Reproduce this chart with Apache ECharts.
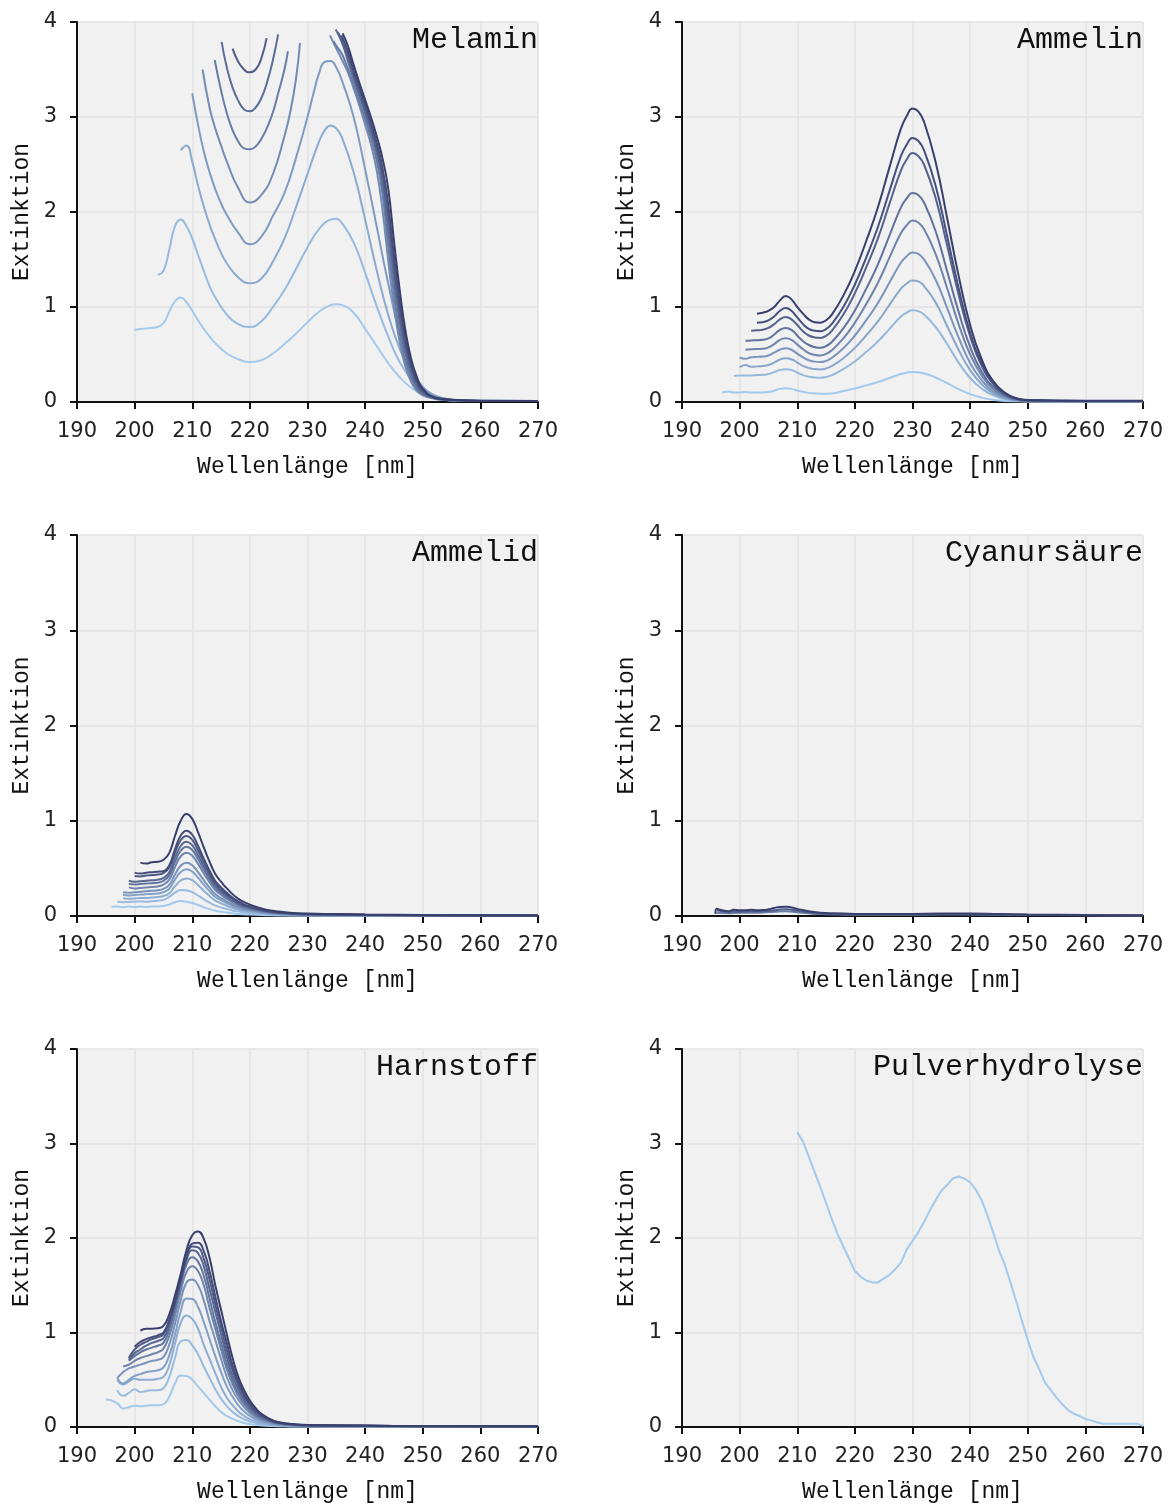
<!DOCTYPE html>
<html>
<head>
<meta charset="utf-8">
<script src="https://cdn.jsdelivr.net/npm/echarts@6.0.0/dist/echarts.min.js"></script>
<style>
  html, body { margin: 0; padding: 0; background: #fff; }
  #chart { width: 1173px; height: 1504px; }
</style>
</head>
<body>
<div id="chart"></div>
<script>
// panel titles, in reading order
const panelNames = ['Melamin', 'Ammelin', 'Ammelid', 'Cyanursäure', 'Harnstoff', 'Pulverhydrolyse'];
const xMin = 190, xMax = 270, xStep = 10;
const yMin = 0, yMax = 4, yStep = 1;

// spectra: [wavelength nm, extinction], light -> dark; null marks a gap (saturated range)
const melamin = [
  [[200,0.76],[202,0.775],[204,0.79],[205,0.83],[206,0.95],[207,1.06],[208,1.1],[209,1.05],[210,0.96],[211,0.86],[212,0.77],[213,0.69],[214,0.62],[216,0.51],[218,0.45],[220,0.42],[222,0.44],[224,0.51],[226,0.61],[228,0.72],[230,0.84],[232,0.95],[234,1.02],[235,1.03],[236,1.02],[238,0.94],[240,0.77],[242,0.59],[244,0.41],[246,0.26],[248,0.15],[250,0.08],[252,0.04],[254,0.02],[256,0.015],[260,0.01],[270,0.01]],
  [[204,1.34],[205,1.38],[206,1.6],[207,1.85],[208,1.92],[209,1.85],[210,1.72],[211,1.55],[212,1.38],[213,1.22],[214,1.1],[216,0.92],[218,0.82],[220,0.79],[222,0.85],[224,1.0],[226,1.18],[228,1.4],[230,1.63],[232,1.82],[234,1.92],[235,1.93],[236,1.88],[238,1.68],[240,1.36],[242,1.01],[244,0.69],[246,0.42],[248,0.24],[250,0.12],[252,0.057],[254,0.025],[256,0.015],[260,0.01],[270,0.01]],
  [[208,2.65],[209,2.7],[210,2.53],[211,2.28],[212,2.06],[213,1.87],[214,1.71],[215,1.57],[216,1.46],[218,1.31],[220,1.25],[222,1.3],[224,1.48],[226,1.72],[228,2.05],[230,2.4],[232,2.74],[233,2.86],[234,2.91],[235,2.88],[236,2.78],[238,2.42],[240,1.92],[242,1.39],[244,0.92],[246,0.56],[248,0.31],[250,0.15],[252,0.07],[254,0.03],[256,0.018],[260,0.012],[270,0.01]],
  [[210,3.25],[211,2.92],[212,2.64],[213,2.42],[214,2.24],[215,2.09],[216,1.97],[218,1.78],[220,1.66],[222,1.74],[224,1.96],[226,2.2],[228,2.57],[230,3.0],[231,3.24],[232,3.46],[233,3.58],[234,3.59],[235,3.52],[236,3.38],[238,3.0],[240,2.45],[242,1.85],[244,1.25],[246,0.72],[248,0.36],[250,0.16],[252,0.07],[254,0.035],[256,0.02],[260,0.012],[270,0.01]],
  [[211.8,3.5],[213,3.1],[214,2.88],[215,2.7],[216,2.53],[218,2.25],[220,2.1],[222,2.18],[224,2.4],[226,2.8],[227,3.05],[228,3.4],[228.7,3.78],[231,null],[233.9,3.86],[235,3.72],[236,3.6],[237,3.47],[238,3.3],[239,3.12],[240,2.92],[241,2.71],[242,2.44],[243,2.03],[244,1.49],[245,1.01],[246,0.63],[247,0.37],[248,0.21],[249,0.115],[250,0.07],[252,0.035],[254,0.02],[256,0.015],[260,0.01],[270,0.01]],
  [[213.9,3.6],[215,3.28],[216,3.04],[217,2.86],[218,2.74],[219,2.67],[220,2.66],[221,2.69],[222,2.77],[223,2.89],[224,3.05],[225,3.27],[226,3.5],[226.6,3.69],[230,null],[234.5,3.8],[235,3.75],[236,3.66],[237,3.51],[238,3.34],[239,3.16],[240,2.98],[241,2.78],[242,2.54],[243,2.2],[244,1.65],[245,1.14],[246,0.72],[247,0.43],[248,0.25],[249,0.135],[250,0.08],[252,0.04],[254,0.022],[256,0.015],[260,0.01],[270,0.01]],
  [[215.1,3.79],[216,3.52],[217,3.31],[218,3.17],[219,3.08],[220,3.06],[221,3.1],[222,3.2],[223,3.37],[224,3.6],[224.9,3.87],[230,null],[234.9,3.92],[236,3.78],[237,3.59],[238,3.4],[239,3.22],[240,3.04],[241,2.84],[242,2.62],[243,2.31],[244,1.81],[245,1.28],[246,0.84],[247,0.51],[248,0.3],[249,0.16],[250,0.09],[252,0.042],[254,0.024],[256,0.016],[260,0.01],[270,0.01]],
  [[217,3.72],[218,3.58],[219,3.5],[219.8,3.47],[221,3.5],[222,3.62],[222.9,3.83],[230,null],[235.3,3.89],[236,3.8],[237,3.64],[238,3.45],[239,3.26],[240,3.08],[241,2.89],[242,2.67],[243,2.39],[244,1.95],[245,1.41],[246,0.94],[247,0.585],[248,0.35],[249,0.19],[250,0.11],[252,0.045],[254,0.026],[256,0.017],[260,0.011],[270,0.01]],
  [[235.9,3.86],[237,3.69],[238,3.49],[239,3.31],[240,3.13],[241,2.94],[242,2.73],[243,2.47],[244,2.08],[245,1.54],[246,1.05],[247,0.66],[248,0.39],[249,0.22],[250,0.12],[252,0.048],[254,0.028],[256,0.018],[260,0.011],[270,0.01]],
  [[236.1,3.88],[237,3.75],[238,3.55],[239,3.36],[240,3.18],[241,3.0],[242,2.8],[243,2.57],[244,2.25],[245,1.7],[246,1.18],[247,0.75],[248,0.45],[249,0.26],[250,0.14],[252,0.05],[254,0.03],[256,0.02],[260,0.012],[270,0.01]]
];

const ammelin = [
  [[197,0.098],[198,0.11],[199,0.1],[200,0.1],[201,0.105],[202,0.1],[203,0.1],[204,0.1],[205,0.105],[206,0.12],[207,0.138],[208,0.144],[209,0.138],[210,0.122],[211,0.107],[212,0.096],[213,0.09],[214,0.087],[216,0.09],[218,0.116],[220,0.142],[222,0.175],[224,0.21],[226,0.252],[228,0.294],[230,0.315],[232,0.3],[234,0.258],[236,0.198],[238,0.135],[240,0.083],[242,0.046],[244,0.022],[246,0.01],[250,0.005],[270,0.005]],
  [[199,0.275],[200,0.28],[201,0.278],[202,0.28],[203,0.283],[204,0.286],[205,0.295],[206,0.315],[207,0.338],[208,0.345],[209,0.337],[210,0.31],[211,0.283],[212,0.265],[213,0.258],[214,0.255],[215,0.263],[216,0.282],[218,0.345],[220,0.427],[222,0.528],[224,0.638],[226,0.77],[228,0.9],[229,0.941],[230,0.966],[231,0.956],[232,0.92],[234,0.79],[236,0.61],[238,0.415],[240,0.253],[242,0.141],[244,0.069],[246,0.031],[248,0.013],[250,0.008],[260,0.006],[270,0.006]],
  [[200,0.365],[201,0.39],[202,0.37],[203,0.375],[204,0.38],[205,0.39],[206,0.415],[207,0.448],[208,0.46],[209,0.45],[210,0.415],[211,0.38],[212,0.358],[213,0.347],[214,0.343],[215,0.353],[216,0.379],[218,0.461],[220,0.57],[222,0.703],[224,0.848],[226,1.022],[228,1.193],[229,1.247],[230,1.28],[231,1.27],[232,1.22],[234,1.05],[236,0.8],[238,0.55],[240,0.335],[242,0.187],[244,0.09],[246,0.041],[248,0.017],[250,0.009],[260,0.007],[270,0.007]],
  [[200,0.47],[201,0.455],[202,0.47],[203,0.475],[204,0.478],[205,0.49],[206,0.52],[207,0.55],[208,0.565],[209,0.55],[210,0.51],[211,0.47],[212,0.44],[213,0.425],[214,0.42],[215,0.433],[216,0.464],[218,0.566],[220,0.7],[222,0.864],[224,1.043],[226,1.257],[228,1.468],[229,1.535],[230,1.575],[231,1.56],[232,1.5],[234,1.29],[236,0.99],[238,0.68],[240,0.41],[242,0.23],[244,0.11],[246,0.05],[248,0.02],[250,0.01],[260,0.008],[270,0.008]],
  [[201,0.55],[202,0.555],[203,0.558],[204,0.56],[205,0.575],[206,0.61],[207,0.655],[208,0.67],[209,0.655],[210,0.605],[211,0.555],[212,0.515],[213,0.497],[214,0.49],[215,0.506],[216,0.544],[218,0.669],[220,0.834],[222,1.035],[224,1.255],[226,1.52],[228,1.778],[229,1.86],[230,1.91],[231,1.89],[232,1.82],[234,1.56],[236,1.2],[238,0.82],[240,0.5],[242,0.28],[244,0.136],[246,0.061],[248,0.025],[250,0.012],[260,0.008],[270,0.008]],
  [[201,0.645],[202,0.648],[203,0.65],[204,0.655],[205,0.67],[206,0.71],[207,0.76],[208,0.78],[209,0.76],[210,0.7],[211,0.64],[212,0.6],[213,0.578],[214,0.57],[215,0.588],[216,0.632],[218,0.775],[220,0.964],[222,1.196],[224,1.449],[226,1.752],[228,2.048],[229,2.143],[230,2.2],[231,2.18],[232,2.1],[234,1.8],[236,1.38],[238,0.95],[240,0.58],[242,0.32],[244,0.16],[246,0.07],[248,0.03],[250,0.014],[260,0.009],[270,0.009]],
  [[202,0.75],[203,0.755],[204,0.76],[205,0.78],[206,0.82],[207,0.87],[208,0.895],[209,0.87],[210,0.81],[211,0.745],[212,0.7],[213,0.68],[214,0.675],[215,0.696],[216,0.749],[218,0.92],[220,1.146],[222,1.422],[224,1.723],[226,2.085],[228,2.439],[229,2.552],[230,2.62],[231,2.59],[232,2.5],[234,2.15],[236,1.65],[238,1.13],[240,0.69],[242,0.38],[244,0.19],[246,0.084],[248,0.034],[250,0.017],[260,0.01],[270,0.01]],
  [[203,0.835],[204,0.84],[205,0.86],[206,0.9],[207,0.96],[208,0.99],[209,0.96],[210,0.89],[211,0.82],[212,0.77],[213,0.75],[214,0.745],[215,0.767],[216,0.822],[218,1.0],[220,1.237],[222,1.526],[224,1.842],[226,2.22],[228,2.59],[229,2.709],[230,2.78],[231,2.75],[232,2.65],[234,2.28],[236,1.75],[238,1.2],[240,0.73],[242,0.41],[244,0.2],[246,0.09],[248,0.036],[250,0.018],[260,0.01],[270,0.01]],
  [[203,0.93],[204,0.94],[205,0.96],[206,1.0],[207,1.07],[208,1.116],[209,1.08],[210,1.0],[211,0.93],[212,0.87],[213,0.84],[214,0.835],[215,0.86],[216,0.92],[218,1.12],[220,1.38],[222,1.7],[224,2.05],[226,2.47],[228,2.88],[229,3.01],[230,3.09],[231,3.06],[232,2.95],[234,2.53],[236,1.94],[238,1.33],[240,0.81],[242,0.45],[244,0.22],[246,0.1],[248,0.04],[250,0.02],[260,0.012],[270,0.012]]
];

const ammelid = [
  [[196,0.098],[197,0.1],[198,0.092],[199,0.1],[200,0.095],[201,0.1],[202,0.095],[203,0.1],[204,0.1],[205,0.105],[206,0.12],[207,0.145],[208,0.157],[209,0.15],[210,0.137],[211,0.115],[212,0.092],[213,0.072],[214,0.056],[215,0.045],[216,0.036],[218,0.022],[220,0.015],[222,0.01],[224,0.007],[226,0.005],[230,0.004],[270,0.002]],
  [[197,0.15],[198,0.145],[199,0.148],[200,0.15],[201,0.152],[202,0.15],[203,0.155],[204,0.16],[205,0.17],[206,0.2],[207,0.245],[208,0.272],[209,0.268],[210,0.25],[211,0.215],[212,0.175],[213,0.14],[214,0.11],[215,0.09],[216,0.073],[218,0.046],[220,0.03],[222,0.02],[224,0.014],[226,0.01],[230,0.006],[240,0.004],[270,0.002]],
  [[198,0.186],[199,0.18],[200,0.185],[201,0.19],[202,0.19],[203,0.195],[204,0.2],[205,0.21],[206,0.238],[207,0.312],[208,0.373],[209,0.395],[210,0.376],[211,0.325],[212,0.265],[213,0.21],[214,0.162],[215,0.133],[216,0.107],[218,0.066],[220,0.044],[222,0.03],[224,0.02],[226,0.015],[228,0.011],[230,0.009],[240,0.006],[250,0.004],[270,0.002]],
  [[198,0.22],[199,0.215],[200,0.22],[201,0.225],[202,0.228],[203,0.232],[204,0.235],[205,0.25],[206,0.286],[207,0.382],[208,0.461],[209,0.49],[210,0.466],[211,0.403],[212,0.329],[213,0.261],[214,0.201],[215,0.165],[216,0.133],[218,0.082],[220,0.055],[222,0.037],[224,0.025],[226,0.018],[228,0.014],[230,0.011],[240,0.007],[250,0.004],[270,0.002]],
  [[198,0.25],[199,0.245],[200,0.25],[201,0.255],[202,0.26],[203,0.265],[204,0.27],[205,0.285],[206,0.326],[207,0.436],[208,0.527],[209,0.56],[210,0.533],[211,0.46],[212,0.376],[213,0.298],[214,0.23],[215,0.188],[216,0.152],[218,0.094],[220,0.063],[222,0.042],[224,0.029],[226,0.021],[228,0.016],[230,0.013],[235,0.011],[240,0.008],[250,0.005],[270,0.003]],
  [[199,0.3],[200,0.29],[201,0.295],[202,0.3],[203,0.305],[204,0.31],[205,0.33],[206,0.38],[207,0.514],[208,0.625],[209,0.665],[210,0.633],[211,0.547],[212,0.447],[213,0.354],[214,0.273],[215,0.223],[216,0.18],[218,0.112],[220,0.074],[222,0.05],[224,0.034],[226,0.025],[228,0.019],[230,0.015],[235,0.013],[240,0.009],[250,0.006],[270,0.003]],
  [[199,0.335],[200,0.33],[201,0.335],[202,0.34],[203,0.345],[204,0.35],[205,0.37],[206,0.424],[207,0.567],[208,0.685],[209,0.728],[210,0.693],[211,0.598],[212,0.489],[213,0.387],[214,0.299],[215,0.245],[216,0.197],[218,0.122],[220,0.082],[222,0.055],[224,0.037],[226,0.027],[228,0.02],[230,0.017],[235,0.014],[240,0.01],[250,0.007],[270,0.004]],
  [[199,0.37],[200,0.36],[201,0.365],[202,0.37],[203,0.375],[204,0.38],[205,0.4],[206,0.457],[207,0.61],[208,0.735],[209,0.78],[210,0.743],[211,0.641],[212,0.524],[213,0.415],[214,0.321],[215,0.262],[216,0.211],[218,0.131],[220,0.087],[222,0.059],[224,0.04],[226,0.029],[228,0.022],[230,0.018],[235,0.015],[240,0.011],[250,0.007],[270,0.004]],
  [[200,0.42],[201,0.415],[202,0.425],[203,0.43],[204,0.435],[205,0.45],[206,0.51],[207,0.665],[208,0.795],[209,0.84],[210,0.8],[211,0.69],[212,0.565],[213,0.447],[214,0.345],[215,0.282],[216,0.228],[218,0.141],[220,0.094],[222,0.063],[224,0.043],[226,0.031],[228,0.024],[230,0.019],[235,0.016],[240,0.012],[250,0.008],[270,0.004]],
  [[200,0.455],[201,0.445],[202,0.455],[203,0.46],[204,0.465],[205,0.47],[206,0.53],[207,0.7],[208,0.845],[209,0.896],[210,0.853],[211,0.737],[212,0.602],[213,0.477],[214,0.368],[215,0.301],[216,0.243],[218,0.151],[220,0.1],[222,0.067],[224,0.046],[226,0.033],[228,0.025],[230,0.021],[235,0.017],[240,0.013],[250,0.008],[270,0.004]],
  [[201,0.56],[202,0.55],[203,0.565],[204,0.57],[205,0.59],[206,0.66],[207,0.84],[208,1.0],[209,1.071],[210,1.02],[211,0.88],[212,0.72],[213,0.57],[214,0.44],[215,0.36],[216,0.29],[218,0.18],[220,0.12],[222,0.08],[224,0.055],[226,0.04],[228,0.03],[230,0.025],[235,0.02],[240,0.015],[250,0.01],[270,0.005]]
];

const cyanursaeure = [
  [[196,0.035],[198,0.03],[200,0.035],[202,0.035],[204,0.037],[206,0.045],[208,0.05],[210,0.04],[212,0.028],[214,0.02],[220,0.014],[230,0.014],[240,0.016],[250,0.01],[270,0.005]],
  [[196,0.06],[197,0.05],[198,0.04],[199,0.05],[200,0.045],[202,0.05],[204,0.05],[206,0.06],[207,0.068],[208,0.07],[209,0.065],[210,0.055],[212,0.038],[214,0.028],[216,0.022],[220,0.018],[230,0.018],[235,0.02],[240,0.02],[250,0.012],[270,0.006]],
  [[195.8,0.02],[196,0.075],[197,0.06],[198,0.05],[199,0.065],[200,0.06],[201,0.06],[202,0.065],[203,0.06],[204,0.062],[205,0.07],[206,0.085],[207,0.095],[208,0.098],[209,0.09],[210,0.075],[212,0.05],[214,0.035],[216,0.028],[220,0.022],[225,0.02],[230,0.022],[235,0.025],[240,0.025],[245,0.02],[250,0.015],[260,0.01],[270,0.008]]
];

const harnstoff = [
  [[195,0.29],[196,0.28],[197,0.25],[198,0.195],[199,0.21],[200,0.225],[201,0.22],[202,0.225],[203,0.23],[204,0.23],[205,0.24],[206,0.32],[207,0.46],[208,0.545],[209,0.54],[210,0.5],[211,0.43],[212,0.36],[213,0.29],[214,0.22],[215,0.16],[216,0.118],[217,0.086],[218,0.062],[219,0.043],[220,0.031],[222,0.017],[224,0.01],[226,0.007],[230,0.005],[270,0.003]],
  [[197,0.39],[198,0.33],[199,0.36],[200,0.4],[201,0.37],[202,0.38],[203,0.39],[204,0.39],[205,0.41],[206,0.527],[207,0.73],[208,0.906],[209,0.92],[210,0.865],[211,0.77],[212,0.64],[213,0.52],[214,0.4],[215,0.3],[216,0.22],[217,0.16],[218,0.115],[219,0.082],[220,0.059],[222,0.03],[224,0.017],[226,0.011],[230,0.007],[240,0.005],[250,0.004],[270,0.003]],
  [[197,0.5],[198,0.45],[199,0.48],[200,0.51],[201,0.5],[202,0.5],[203,0.5],[204,0.51],[205,0.53],[206,0.65],[207,0.88],[208,1.1],[209,1.18],[210,1.145],[211,1.04],[212,0.87],[213,0.72],[214,0.57],[215,0.425],[216,0.31],[217,0.23],[218,0.165],[219,0.118],[220,0.083],[221,0.061],[222,0.041],[224,0.024],[226,0.015],[230,0.009],[240,0.007],[250,0.005],[270,0.004]],
  [[197,0.52],[198,0.46],[199,0.5],[200,0.54],[201,0.56],[202,0.58],[203,0.59],[204,0.6],[205,0.63],[206,0.756],[207,0.975],[208,1.22],[209,1.36],[210,1.355],[211,1.27],[212,1.11],[213,0.93],[214,0.75],[215,0.58],[216,0.43],[217,0.32],[218,0.23],[219,0.165],[220,0.117],[221,0.084],[222,0.06],[224,0.032],[226,0.02],[230,0.011],[240,0.008],[250,0.006],[270,0.004]],
  [[197,0.52],[198,0.58],[199,0.62],[200,0.64],[201,0.66],[202,0.68],[203,0.7],[204,0.71],[205,0.74],[206,0.87],[207,1.09],[208,1.34],[209,1.53],[210,1.56],[211,1.5],[212,1.34],[213,1.12],[214,0.92],[215,0.72],[216,0.53],[217,0.39],[218,0.29],[219,0.21],[220,0.147],[221,0.103],[222,0.077],[224,0.04],[226,0.024],[230,0.013],[240,0.01],[250,0.007],[270,0.005]],
  [[198,0.64],[199,0.66],[200,0.7],[201,0.73],[202,0.75],[203,0.77],[204,0.79],[205,0.83],[206,0.965],[207,1.18],[208,1.44],[209,1.64],[210,1.7],[211,1.65],[212,1.5],[213,1.26],[214,1.04],[215,0.82],[216,0.61],[217,0.45],[218,0.33],[219,0.24],[220,0.17],[221,0.12],[222,0.088],[224,0.046],[226,0.027],[230,0.015],[240,0.011],[250,0.007],[270,0.005]],
  [[199,0.7],[200,0.75],[201,0.79],[202,0.82],[203,0.84],[204,0.86],[205,0.89],[206,1.03],[207,1.25],[208,1.5],[209,1.72],[210,1.795],[211,1.75],[212,1.6],[213,1.36],[214,1.11],[215,0.89],[216,0.67],[217,0.49],[218,0.36],[219,0.26],[220,0.187],[221,0.131],[222,0.094],[224,0.05],[226,0.029],[230,0.016],[240,0.011],[250,0.008],[270,0.006]],
  [[199,0.71],[200,0.78],[201,0.82],[202,0.86],[203,0.89],[204,0.91],[205,0.94],[206,1.07],[207,1.29],[208,1.54],[209,1.77],[210,1.87],[211,1.84],[212,1.7],[213,1.46],[214,1.22],[215,0.98],[216,0.74],[217,0.54],[218,0.4],[219,0.29],[220,0.21],[221,0.148],[222,0.107],[224,0.056],[226,0.032],[230,0.017],[240,0.012],[250,0.008],[270,0.006]],
  [[199,0.73],[200,0.82],[201,0.87],[202,0.9],[203,0.93],[204,0.95],[205,0.98],[206,1.11],[207,1.31],[208,1.55],[209,1.79],[210,1.91],[211,1.9],[212,1.78],[213,1.56],[214,1.3],[215,1.06],[216,0.81],[217,0.6],[218,0.44],[219,0.32],[220,0.23],[221,0.164],[222,0.118],[224,0.06],[226,0.034],[230,0.018],[240,0.013],[250,0.009],[270,0.007]],
  [[200,0.85],[201,0.9],[202,0.93],[203,0.95],[204,0.97],[205,1.0],[206,1.13],[207,1.33],[208,1.56],[209,1.8],[210,1.94],[211,1.95],[212,1.86],[213,1.65],[214,1.38],[215,1.12],[216,0.89],[217,0.65],[218,0.48],[219,0.35],[220,0.25],[221,0.18],[222,0.128],[224,0.065],[226,0.037],[230,0.019],[240,0.014],[250,0.009],[270,0.007]],
  [[201,1.02],[202,1.04],[203,1.04],[204,1.045],[205,1.07],[206,1.19],[207,1.39],[208,1.62],[209,1.87],[210,2.03],[211,2.07],[212,1.99],[213,1.79],[214,1.5],[215,1.24],[216,0.98],[217,0.73],[218,0.53],[219,0.39],[220,0.28],[221,0.2],[222,0.14],[224,0.07],[226,0.041],[230,0.021],[240,0.015],[250,0.01],[270,0.008]]
];

const pulverhydrolyse = [
  [[210,3.12],[211,3.02],[212,2.86],[213,2.7],[214,2.54],[215,2.37],[216,2.2],[217,2.04],[218,1.91],[219,1.78],[220,1.65],[221,1.59],[222,1.55],[223,1.53],[224,1.53],[225,1.57],[226,1.61],[227,1.67],[228,1.74],[229,1.88],[230,1.97],[231,2.06],[232,2.17],[233,2.29],[234,2.4],[235,2.5],[236,2.56],[237,2.63],[238,2.65],[239,2.63],[240,2.59],[241,2.51],[242,2.4],[243,2.24],[244,2.06],[245,1.87],[246,1.72],[247,1.53],[248,1.33],[249,1.12],[250,0.92],[251,0.74],[252,0.61],[253,0.47],[254,0.39],[255,0.31],[256,0.24],[257,0.18],[258,0.14],[259,0.116],[260,0.085],[261,0.07],[262,0.05],[263,0.035],[265,0.035],[267,0.035],[269,0.035],[270,0.01]]
];

const panelData = [melamin, ammelin, ammelid, cyanursaeure, harnstoff, pulverhydrolyse];

const light = [163, 201, 236], dark = [57, 63, 108];
function shade(t) {
  const c = light.map((v, i) => Math.round(v + (dark[i] - v) * t));
  return 'rgb(' + c.join(',') + ')';
}
// colour range per panel (Cyanursäure is all dark, the powder run is the light tone)
const shadeRange = [[0, 1], [0, 1], [0, 1], [0.55, 1], [0, 1], [0, 0]];

const plotW = 461;
const lefts = [77, 682];
const tops = [22, 535, 1049];
const heights = [380, 381, 380];

let chart = echarts.init(document.getElementById('chart'), null, { renderer: 'canvas' });

let grids = [], xAxes = [], yAxes = [], titles = [], series = [];
const axisText = { fontFamily: 'Liberation Mono', fontSize: 23, color: '#111' };
const tickText = { color: '#222', fontSize: 21, fontFamily: 'DejaVu Sans' };

panelNames.forEach((name, p) => {
  const left = lefts[p % 2];
  const row = Math.floor(p / 2);
  grids.push({
    left: left, top: tops[row], width: plotW, height: heights[row],
    show: true, backgroundColor: '#f1f1f1', borderWidth: 0
  });
  xAxes.push({
    gridIndex: p, type: 'value', min: xMin, max: xMax, interval: xStep,
    name: 'Wellenlänge [nm]', nameLocation: 'middle', nameGap: 53,
    nameTextStyle: axisText,
    axisLine: { show: true, onZero: false, lineStyle: { color: '#111', width: 2 } },
    axisTick: { show: true, length: 7, lineStyle: { color: '#111', width: 2 } },
    axisLabel: Object.assign({ margin: 19 }, tickText),
    splitLine: { show: true, lineStyle: { color: '#e2e2e2', width: 1.5 } }
  });
  yAxes.push({
    gridIndex: p, type: 'value', min: yMin, max: yMax, interval: yStep,
    name: 'Extinktion', nameLocation: 'middle', nameGap: 44,
    nameTextStyle: axisText,
    axisLine: { show: true, lineStyle: { color: '#111', width: 2 } },
    axisTick: { show: true, length: 7, lineStyle: { color: '#111', width: 2 } },
    axisLabel: Object.assign({ margin: 20 }, tickText),
    splitLine: { show: true, lineStyle: { color: '#e2e2e2', width: 1.5 } }
  });
  titles.push({
    text: name, right: 1173 - (left + plotW), top: tops[row] + 3, padding: 0,
    textStyle: { fontFamily: 'Liberation Mono', fontSize: 30, fontWeight: 'normal', color: '#111' }
  });

  const curves = panelData[p];
  const r = shadeRange[p];
  curves.forEach((curve, i) => {
    const t = curves.length > 1 ? r[0] + (r[1] - r[0]) * i / (curves.length - 1) : r[0];
    series.push({
      type: 'line', xAxisIndex: p, yAxisIndex: p,
      data: curve, showSymbol: false, silent: true,
      smooth: p === 5 ? false : 0.5,
      lineStyle: { width: 2, color: shade(t) }
    });
  });
});

chart.setOption({
  animation: false,
  backgroundColor: '#fff',
  title: titles,
  grid: grids,
  xAxis: xAxes,
  yAxis: yAxes,
  series: series
});
window.addEventListener('resize', function () {
  chart.resize();
});
</script>
